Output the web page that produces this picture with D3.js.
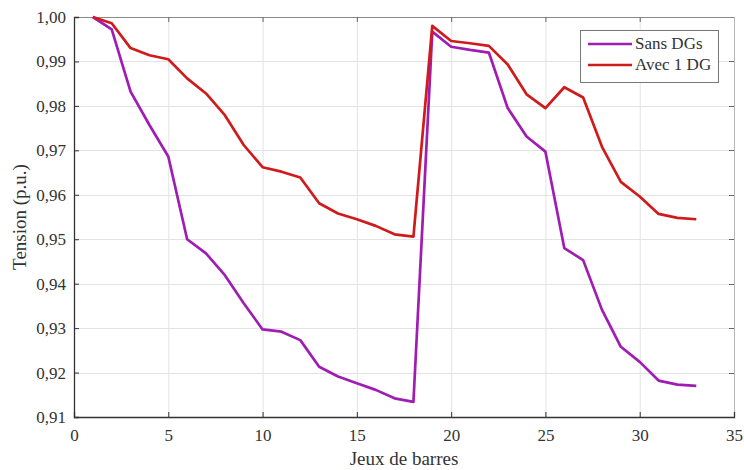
<!DOCTYPE html>
<html>
<head>
<meta charset="utf-8">
<script src="https://cdn.jsdelivr.net/npm/d3@7"></script>
<style>
  html, body { margin: 0; padding: 0; background: #fff; }
  svg text { font-family: "Liberation Serif", "DejaVu Serif", serif; fill: #333; }
</style>
</head>
<body>
<svg id="chart" width="744" height="470"></svg>
<script>
// Bus indices (jeux de barres) 1..33
const buses = [1,2,3,4,5,6,7,8,9,10,11,12,13,14,15,16,17,18,19,20,21,22,23,24,25,26,27,28,29,30,31,32,33];

// Voltage profile without distributed generation
const sansDG = [1.0000,0.9972,0.9832,0.9757,0.9686,0.9500,0.9468,0.9419,0.9356,0.9297,
                0.9292,0.9273,0.9213,0.9191,0.9176,0.9161,0.9142,0.9134,0.9967,0.9933,
                0.9926,0.9920,0.9795,0.9731,0.9697,0.9480,0.9453,0.9341,0.9258,0.9224,
                0.9182,0.9173,0.9170];

// Voltage profile with one distributed generator
const avec1DG = [1.0000,0.9986,0.9930,0.9914,0.9905,0.9862,0.9828,0.9779,0.9712,0.9662,
                 0.9652,0.9639,0.9581,0.9558,0.9545,0.9530,0.9511,0.9506,0.9980,0.9946,
                 0.9941,0.9935,0.9893,0.9826,0.9795,0.9842,0.9819,0.9708,0.9629,0.9596,
                 0.9557,0.9548,0.9545];

const xTicks = [0,5,10,15,20,25,30,35];
const yTicks = [0.91,0.92,0.93,0.94,0.95,0.96,0.97,0.98,0.99,1.00];
const seriesNames = ["Sans DGs", "Avec 1 DG"];
const seriesColors = ["#a01db3", "#cf1b1b"];

const svg = d3.select("#chart");
const m = {left: 74, right: 10, top: 17, bottom: 53};
const W = 744, H = 470;
const iw = W - m.left - m.right, ih = H - m.top - m.bottom;

const x = d3.scaleLinear().domain([0, 35]).range([m.left, m.left + iw]);
const y = d3.scaleLinear().domain([0.91, 1.00]).range([m.top + ih, m.top]);
const fmt = d => d3.format(".2f")(d).replace(".", ",");

// grid
const grid = svg.append("g").attr("stroke", "#e3e3e3").attr("stroke-width", 1);
grid.selectAll("line.v").data(xTicks.slice(1, -1)).join("line")
  .attr("x1", d => x(d) + 0.5).attr("x2", d => x(d) + 0.5)
  .attr("y1", m.top).attr("y2", m.top + ih);
grid.selectAll("line.h").data(yTicks.slice(1, -1)).join("line")
  .attr("x1", m.left).attr("x2", m.left + iw)
  .attr("y1", d => Math.round(y(d)) + 0.5).attr("y2", d => Math.round(y(d)) + 0.5);

// frame: top and right edges lighter
svg.append("line").attr("x1", m.left).attr("x2", m.left + iw).attr("y1", m.top + 0.5).attr("y2", m.top + 0.5)
  .attr("stroke", "#8a8a8a").attr("stroke-width", 1.2);
svg.append("line").attr("x1", m.left + iw + 0.5).attr("x2", m.left + iw + 0.5).attr("y1", m.top).attr("y2", m.top + ih)
  .attr("stroke", "#b5b5b5").attr("stroke-width", 1);

// bottom axis
const xAxis = svg.append("g").attr("transform", `translate(0,${m.top + ih})`)
  .call(d3.axisBottom(x).tickValues(xTicks).tickSize(-5).tickPadding(12).tickFormat(d3.format("d")));
xAxis.select(".domain").attr("stroke", "#333").attr("stroke-width", 1.3);
xAxis.selectAll(".tick line").attr("stroke", "#333");
xAxis.selectAll("text").attr("font-size", 17).attr("fill", "#333")
  .style("font-family", "'Liberation Serif', serif");

// left axis
const yAxis = svg.append("g").attr("transform", `translate(${m.left},0)`)
  .call(d3.axisLeft(y).tickValues(yTicks).tickSize(-5).tickPadding(8).tickFormat(fmt));
yAxis.select(".domain").attr("stroke", "#333").attr("stroke-width", 1.3);
yAxis.selectAll(".tick line").attr("stroke", "#333");
yAxis.selectAll("text").attr("font-size", 17).attr("fill", "#333")
  .style("font-family", "'Liberation Serif', serif");

// inward ticks on top and right edges
svg.append("g").selectAll("line").data(xTicks.slice(1, -1)).join("line")
  .attr("x1", d => x(d) + 0.5).attr("x2", d => x(d) + 0.5)
  .attr("y1", m.top).attr("y2", m.top + 5).attr("stroke", "#666");
svg.append("g").selectAll("line").data(yTicks.slice(1, -1)).join("line")
  .attr("x1", m.left + iw - 5).attr("x2", m.left + iw)
  .attr("y1", d => Math.round(y(d)) + 0.5).attr("y2", d => Math.round(y(d)) + 0.5).attr("stroke", "#666");

// axis titles
svg.append("text").attr("x", x(17.5)).attr("y", 465).attr("text-anchor", "middle")
  .attr("font-size", 19).text("Jeux de barres");
svg.append("text").attr("transform", `translate(26,${m.top + ih / 2}) rotate(-90)`)
  .attr("text-anchor", "middle").attr("font-size", 19).text("Tension (p.u.)");

// lines
const line = d3.line().x((d, i) => x(buses[i])).y(d => y(d));
[sansDG, avec1DG].forEach((s, k) => {
  svg.append("path").datum(s).attr("d", line).attr("fill", "none")
    .attr("stroke", seriesColors[k]).attr("stroke-width", 2.7).attr("stroke-linejoin", "round");
});

// legend
const lg = svg.append("g");
lg.append("rect").attr("x", 580.5).attr("y", 30.5).attr("width", 138).attr("height", 52)
  .attr("fill", "#fff").attr("stroke", "#777").attr("stroke-width", 1);
seriesNames.forEach((n, k) => {
  const yy = 44 + k * 21;
  lg.append("line").attr("x1", 588).attr("x2", 632).attr("y1", yy).attr("y2", yy)
    .attr("stroke", seriesColors[k]).attr("stroke-width", 2.7);
  lg.append("text").attr("x", 635).attr("y", yy + 5).attr("font-size", 17).text(n);
});
</script>
</body>
</html>
